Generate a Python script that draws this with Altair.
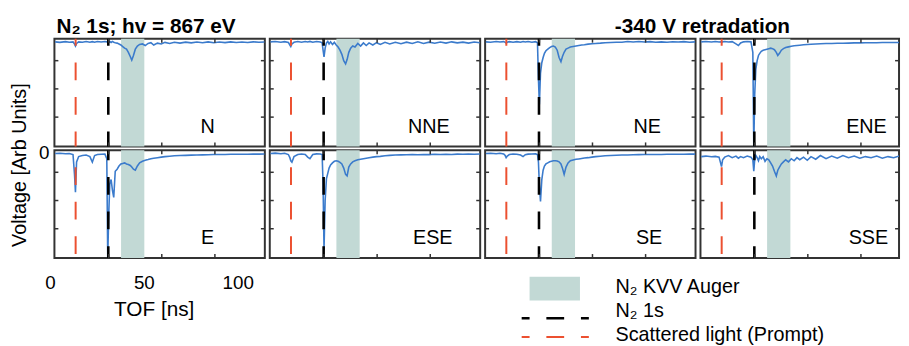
import altair as alt
import pandas as pd

# ---------------- data ----------------
TIME = [2.5, 5, 8, 10, 12,
        12.8, 13.3, 13.9, 15, 17,
        19, 21, 22.3, 23.5, 25,
        27, 29, 30.0, 30.5, 31.0,
        31.6, 32.3, 33.0, 33.7, 34.5,
        35.5, 36.5, 37.5, 38.5, 39.5,
        40.5, 41.5, 42.5, 43.3, 44.2,
        45.2, 46.3, 47.5, 49, 50.5,
        52, 53.5, 55, 57, 59,
        61, 63.5, 66, 69, 72,
        75, 78, 81, 84, 87,
        90, 93, 96, 99, 102,
        105, 108, 111, 114]

N_V = [0.000, -0.005, 0.002, -0.003, 0.000,
       -0.020, -0.040, -0.015, 0.000, -0.004,
       0.003, -0.003, 0.002, -0.004, 0.003,
       -0.002, 0.004, 0.000, 0.006, -0.004,
       0.003, -0.006, 0.004, -0.003, -0.008,
       -0.012, -0.020, -0.030, -0.045, -0.060,
       -0.070, -0.100, -0.140, -0.175, -0.130,
       -0.070, -0.040, -0.025, -0.020, -0.035,
       -0.015, -0.008, -0.030, -0.012, -0.020,
       -0.005, -0.015, -0.004, -0.012, -0.003,
       -0.010, -0.002, -0.009, 0.000, -0.008,
       -0.002, -0.007, 0.000, -0.006, -0.002,
       -0.006, 0.000, -0.004, -0.002]

NNE_V = [0.000, 0.004, -0.003, 0.002, -0.005,
         -0.030, -0.045, -0.020, -0.004, 0.003,
         -0.004, 0.003, -0.002, 0.004, -0.003,
         0.003, -0.002, -0.010, -0.080, -0.145,
         -0.060, -0.010, 0.005, -0.020, 0.000,
         -0.025, -0.005, -0.030, -0.050, -0.080,
         -0.120, -0.180, -0.210, -0.170, -0.100,
         -0.060, -0.040, -0.050, -0.015, -0.040,
         -0.010, -0.035, -0.010, -0.030, -0.008,
         -0.025, -0.005, -0.020, -0.004, -0.018,
         -0.003, -0.016, 0.000, -0.015, -0.003,
         -0.014, -0.002, -0.012, 0.000, -0.010,
         -0.003, -0.012, -0.002, -0.008]

NE_V = [0.000, -0.003, 0.003, -0.002, 0.002,
        -0.005, -0.012, -0.004, 0.002, -0.003,
        0.002, -0.004, 0.003, -0.002, 0.003,
        -0.003, 0.002, -0.010, -0.350, -0.600,
        -0.300, -0.200, -0.150, -0.110, -0.085,
        -0.070, -0.055, -0.045, -0.040, -0.050,
        -0.080, -0.150, -0.190, -0.140, -0.100,
        -0.070, -0.060, -0.050, -0.045, -0.040,
        -0.035, -0.030, -0.028, -0.022, -0.018,
        -0.015, -0.012, -0.008, -0.006, -0.004,
        -0.003, 0.003, -0.002, 0.004, -0.001,
        0.002, -0.003, 0.000, -0.004, 0.001,
        -0.002, 0.002, -0.003, 0.000]

ENE_V = [0.000, 0.003, -0.002, 0.003, -0.002,
         0.000, -0.006, 0.000, 0.003, -0.002,
         0.002, -0.020, -0.035, -0.010, 0.000,
         0.003, 0.000, -0.100, -1.000, -0.500,
         -0.260, -0.180, -0.130, -0.110, -0.090,
         -0.080, -0.075, -0.070, -0.065, -0.060,
         -0.065, -0.075, -0.100, -0.130, -0.110,
         -0.080, -0.065, -0.055, -0.048, -0.042,
         -0.038, -0.035, -0.032, -0.028, -0.025,
         -0.023, -0.020, -0.018, -0.016, -0.015,
         -0.014, -0.013, -0.012, -0.010, -0.010,
         -0.009, -0.008, -0.008, -0.007, -0.007,
         -0.006, -0.006, -0.005, -0.005]

E_V = [0.000, 0.002, -0.002, 0.000, -0.010,
       -0.200, -0.370, -0.080, -0.030, -0.020,
       -0.015, -0.030, -0.083, -0.020, -0.010,
       -0.008, -0.006, -0.050, -1.000, -0.600,
       -0.290, -0.250, -0.350, -0.420, -0.170,
       -0.150, -0.120, -0.100, -0.095, -0.090,
       -0.100, -0.105, -0.115, -0.130, -0.150,
       -0.160, -0.120, -0.090, -0.075, -0.065,
       -0.058, -0.050, -0.045, -0.040, -0.035,
       -0.030, -0.026, -0.022, -0.020, -0.018,
       -0.016, -0.014, -0.013, -0.012, -0.010,
       -0.010, -0.009, -0.008, -0.008, -0.007,
       -0.007, -0.006, -0.006, -0.005]

ESE_V = [0.000, 0.003, -0.002, 0.002, -0.010,
         -0.040, -0.070, -0.083, -0.030, -0.010,
         -0.005, -0.010, -0.035, -0.050, -0.010,
         -0.004, -0.005, -0.010, -0.300, -0.920,
         -0.450, -0.240, -0.190, -0.140, -0.110,
         -0.090, -0.075, -0.070, -0.075, -0.085,
         -0.100, -0.140, -0.200, -0.215, -0.130,
         -0.100, -0.080, -0.070, -0.060, -0.055,
         -0.050, -0.045, -0.040, -0.035, -0.030,
         -0.028, -0.022, -0.018, -0.015, -0.013,
         -0.012, -0.010, -0.012, -0.009, -0.011,
         -0.008, -0.010, -0.007, -0.009, -0.006,
         -0.008, -0.006, -0.007, -0.005]

SE_V = [0.000, 0.002, -0.003, 0.002, -0.005,
        -0.020, -0.040, -0.025, -0.010, -0.005,
        -0.008, -0.015, -0.030, -0.012, -0.006,
        -0.005, -0.004, -0.010, -0.080, -0.300,
        -0.460, -0.250, -0.160, -0.120, -0.100,
        -0.090, -0.080, -0.075, -0.070, -0.070,
        -0.072, -0.080, -0.100, -0.140, -0.200,
        -0.130, -0.090, -0.070, -0.062, -0.056,
        -0.052, -0.048, -0.044, -0.040, -0.035,
        -0.030, -0.026, -0.022, -0.020, -0.017,
        -0.015, -0.014, -0.012, -0.011, -0.010,
        -0.010, -0.009, -0.009, -0.008, -0.008,
        -0.007, -0.007, -0.006, -0.006]

SSE_V = [-0.030, -0.025, -0.032, -0.028, -0.035,
         -0.090, -0.125, -0.060, -0.035, -0.020,
         -0.040, -0.025, -0.045, -0.030, -0.040,
         -0.025, -0.035, -0.060, -0.170, -0.060,
         -0.020, -0.040, -0.070, -0.030, -0.050,
         -0.030, -0.075, -0.050, -0.060, -0.090,
         -0.120, -0.170, -0.215, -0.160, -0.130,
         -0.100, -0.080, -0.060, -0.080, -0.050,
         -0.070, -0.040, -0.060, -0.035, -0.065,
         -0.030, -0.055, -0.020, -0.050, -0.025,
         -0.045, -0.020, -0.040, -0.025, -0.045,
         -0.030, -0.040, -0.025, -0.045, -0.030,
         -0.040, -0.025, -0.035, -0.030]

DIRECTIONS = ["N", "NNE", "NE", "ENE", "E", "ESE", "SE", "SSE"]
TRACES = [N_V, NNE_V, NE_V, ENE_V, E_V, ESE_V, SE_V, SSE_V]

PROMPT_NS = [13.4]
N1S_NS = [30.8]
AUGER_START = [37.6]
AUGER_END = [50.0]
X_TICKS = [31.0, 59.3, 87.6]
Y_TICKS = [-0.18, -0.45, -0.72]
X_LABELS = [0, 50, 100]
Y_LABELS = [0]

TITLE_LEFT = "N\u2082 1s; hv = 867 eV"
TITLE_RIGHT = "-340 V retradation"
LEGEND_TEXT = ["N\u2082 KVV Auger", "N\u2082 1s", "Scattered light (Prompt)"]
X_TITLE = "TOF [ns]"
Y_TITLE = "Voltage [Arb Units]"

# ---------------- style / layout ----------------
FONT = "Liberation Sans"
BLUE = "#3b7bcc"
RED = "#ec5030"
BLACK = "#000000"
SHADE = "#c2d9d5"
FRAME = "#333333"

W, H = 213, 109
W_LAST = 201
PX_PER_NS = 1.9
T_START = 2.1
Y_DOMAIN = [-1.0, 0.03]
LABEL_DX = {"N": 155, "NNE": 161, "NE": 164, "ENE": 168,
            "E": 155, "ESE": 165, "SE": 166, "SSE": 170}
DASH = [18, 17]


def single(**kw):
    return pd.DataFrame({k: [v] for k, v in kw.items()})


def text_layer(txt, x, y, size=20, weight="normal", align="left", angle=0):
    return (alt.Chart(single(txt=txt))
            .mark_text(font=FONT, fontSize=size, fontWeight=weight, align=align,
                       baseline="middle", color="black", angle=angle)
            .encode(text="txt:N", x=alt.value(x), y=alt.value(y)))


def panel(i):
    name = DIRECTIONS[i]
    row, col = divmod(i, 4)
    width = W_LAST if col == 3 else W
    xs = alt.Scale(domain=[T_START, T_START + width / PX_PER_NS], nice=False, zero=False)
    ys = alt.Scale(domain=Y_DOMAIN, nice=False, zero=False)

    def X(f):
        return alt.X(f, type="quantitative", scale=xs, axis=None)

    def Y(f):
        return alt.Y(f, type="quantitative", scale=ys, axis=None)

    off_red = 11 if row == 0 else 18
    off_blk = 11 if row == 0 else 8

    layers = [
        alt.Chart(pd.DataFrame({"start": AUGER_START, "end": AUGER_END}))
        .mark_rect(color=SHADE)
        .encode(x=X("start"), x2=alt.X2("end")),
        alt.Chart(pd.DataFrame({"t": TIME, "v": TRACES[i]}))
        .mark_line(color=BLUE, strokeWidth=1.6, clip=True)
        .encode(x=X("t"), y=Y("v")),
        alt.Chart(pd.DataFrame({"t": PROMPT_NS}))
        .mark_rule(color=RED, strokeWidth=2, strokeDash=DASH, strokeDashOffset=off_red)
        .encode(x=X("t")),
        alt.Chart(pd.DataFrame({"t": N1S_NS}))
        .mark_rule(color=BLACK, strokeWidth=2.6, strokeDash=DASH, strokeDashOffset=off_blk)
        .encode(x=X("t")),
        alt.Chart(pd.DataFrame({"t": X_TICKS}))
        .mark_rule(color=FRAME, strokeWidth=1.5)
        .encode(x=X("t"), y=alt.value(0), y2=alt.value(4)),
        alt.Chart(pd.DataFrame({"t": X_TICKS}))
        .mark_rule(color=FRAME, strokeWidth=1.5)
        .encode(x=X("t"), y=alt.value(H - 4), y2=alt.value(H)),
        alt.Chart(pd.DataFrame({"v": Y_TICKS}))
        .mark_rule(color=FRAME, strokeWidth=1.5)
        .encode(y=Y("v"), x=alt.value(0), x2=alt.value(4)),
        alt.Chart(pd.DataFrame({"v": Y_TICKS}))
        .mark_rule(color=FRAME, strokeWidth=1.5)
        .encode(y=Y("v"), x=alt.value(width - 4), x2=alt.value(width)),
        alt.Chart(single(name=name))
        .mark_text(font=FONT, fontSize=20, align="center", baseline="middle", color="black")
        .encode(text="name:N", x=alt.value(LABEL_DX[name]), y=alt.value(89)),
    ]

    if row == 0 and col == 0:
        layers.append(text_layer(TITLE_LEFT, 2, -12, size=21, weight="bold"))
    if row == 0 and col == 2:
        layers.append(text_layer(TITLE_RIGHT, 220, -12, size=21, weight="bold", align="center"))
    if row == 1 and col == 0:
        layers += [
            alt.Chart(pd.DataFrame({"t": X_LABELS}))
            .mark_text(font=FONT, fontSize=19, align="center", baseline="middle", color="black")
            .encode(x=X("t"), y=alt.value(H + 25), text="t:Q"),
            alt.Chart(pd.DataFrame({"v": Y_LABELS}))
            .mark_text(font=FONT, fontSize=19, align="right", baseline="middle", color="black")
            .encode(y=Y("v"), x=alt.value(-5), text="v:Q"),
            text_layer(X_TITLE, 101, H + 53, size=21, align="center"),
            text_layer(Y_TITLE, -35, 15, size=20, align="center", angle=270),
        ]
    if row == 1 and col == 2:
        layers += [
            alt.Chart(single(k=0)).mark_rect(color=SHADE)
            .encode(x=alt.value(45), x2=alt.value(96), y=alt.value(128), y2=alt.value(152)),
            alt.Chart(single(k=0)).mark_rule(color=BLACK, strokeWidth=2.6, strokeDash=DASH,
                                             strokeDashOffset=10)
            .encode(x=alt.value(37), x2=alt.value(105), y=alt.value(170)),
            alt.Chart(single(k=0)).mark_rule(color=RED, strokeWidth=2, strokeDash=DASH,
                                             strokeDashOffset=10)
            .encode(x=alt.value(37), x2=alt.value(105), y=alt.value(189)),
        ]
        for txt, yy in zip(LEGEND_TEXT, [138, 163, 187]):
            layers.append(text_layer(txt, 132, yy, size=20))

    return alt.layer(*layers).properties(width=width, height=H)


chart = (
    alt.concat(*[panel(i) for i in range(8)], columns=4,
               spacing=alt.RowColnumber(row=4, column=5), bounds="flush")
    .properties(padding={"left": 0, "top": 5, "right": 0, "bottom": 0},
                background="white")
    .configure_view(stroke=FRAME, strokeWidth=2)
)

chart.save("out.html", embed_options={"renderer": "svg", "actions": False})
